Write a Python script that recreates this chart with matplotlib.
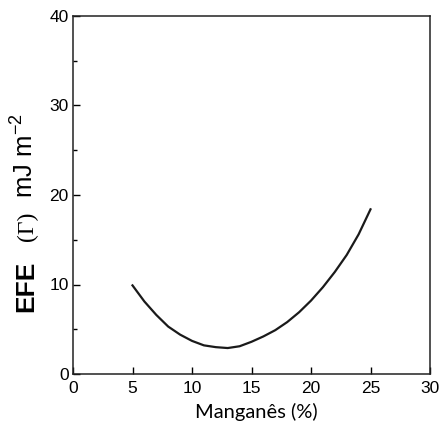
import matplotlib
matplotlib.use('Agg')
import matplotlib.pyplot as plt
from matplotlib.ticker import MultipleLocator

# Manganese content (%) and stacking fault energy
mn = [5, 6, 7, 8, 9, 10, 11, 12, 13, 14, 15, 16, 17, 18, 19, 20, 21, 22, 23, 24, 25]
efe = [9.9, 8.1, 6.6, 5.3, 4.4, 3.7, 3.2, 3.0, 2.9, 3.1, 3.6, 4.2, 4.9, 5.8, 6.9,
       8.2, 9.7, 11.4, 13.3, 15.6, 18.4]

plt.rcParams['font.family'] = ['Liberation Sans', 'DejaVu Sans']
plt.rcParams['mathtext.default'] = 'regular'

W, H = 441, 425
FIG = plt.figure(figsize=(W / 100, H / 100), dpi=100)
AX1 = FIG.add_axes([73 / W, 1 - 374 / H, 357 / W, 358 / H])

AX1.plot(mn, efe, color='#1a1a1a', lw=1.6)

AX1.set_xlim(0, 30)
AX1.set_ylim(0, 40)
AX1.xaxis.set_major_locator(MultipleLocator(5))
AX1.yaxis.set_major_locator(MultipleLocator(10))
AX1.yaxis.set_minor_locator(MultipleLocator(5))
AX1.tick_params(which='both', direction='in', top=False, right=False,
                labelsize=12.5, width=1)
AX1.tick_params(which='major', length=5)
AX1.tick_params(which='minor', length=3)
AX1.tick_params(axis='x', pad=5)
AX1.tick_params(axis='y', pad=3)
for sp in AX1.spines.values():
    sp.set_linewidth(1.1)
    sp.set_color('#222222')

AX1.set_xlabel('Manganês (%)', fontsize=14.5, family=['Lato', 'DejaVu Sans'])
AX1.xaxis.set_label_coords(0.513, -0.082, transform=AX1.transAxes)
AX1.xaxis.label.set_va('baseline')
AX1.xaxis.set_label_coords(0.513, -44 / 358)

# y label built from pieces: bold EFE, serif Gamma, units
FIG.text(33 / W, 1 - 312 / H, 'EFE', rotation=90, rotation_mode='anchor',
         ha='left', va='baseline', fontsize=19, fontweight='bold')
FIG.text(33 / W, 1 - 241 / H, '(Γ)', rotation=90, rotation_mode='anchor',
         ha='left', va='baseline', fontsize=17, family=['Liberation Serif', 'DejaVu Serif'])
FIG.text(34 / W, 1 - 198 / H, 'mJ m$^{-2}$', rotation=90, rotation_mode='anchor',
         ha='left', va='baseline', fontsize=18.5)

plt.savefig('out.png', dpi=100)
